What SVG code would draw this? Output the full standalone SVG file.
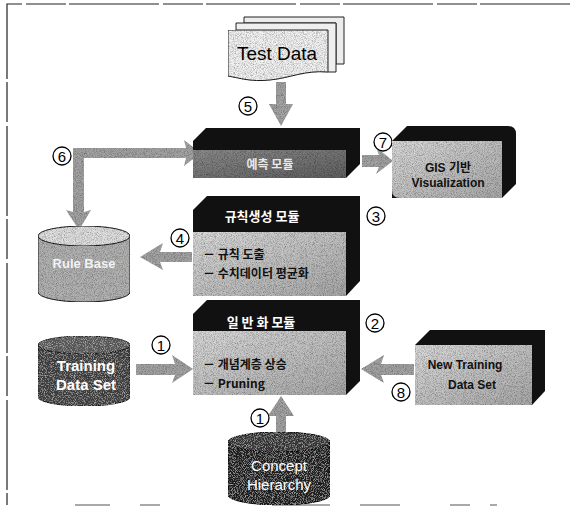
<svg xmlns="http://www.w3.org/2000/svg" width="570" height="519" viewBox="0 0 570 519">
  <defs>
    <!-- speckled print texture -->
    <filter id="grain" x="0" y="0" width="100%" height="100%">
      <feTurbulence type="fractalNoise" baseFrequency="1.1" numOctaves="2" seed="4" result="n"/>
      <feColorMatrix in="n" type="matrix" values="0 0 0 0 0  0 0 0 0 0  0 0 0 0 0  1.3 0 0 0 -0.5" result="speck"/>
      <feComposite in="speck" in2="SourceGraphic" operator="in" result="dots"/>
      <feMerge><feMergeNode in="SourceGraphic"/><feMergeNode in="dots"/></feMerge>
    </filter>
    <filter id="grainLight" x="0" y="0" width="100%" height="100%">
      <feTurbulence type="fractalNoise" baseFrequency="1.1" numOctaves="2" seed="9" result="n"/>
      <feColorMatrix in="n" type="matrix" values="0 0 0 0 1  0 0 0 0 1  0 0 0 0 1  1.1 0 0 0 -0.52" result="speck"/>
      <feComposite in="speck" in2="SourceGraphic" operator="in" result="dots"/>
      <feMerge><feMergeNode in="SourceGraphic"/><feMergeNode in="dots"/></feMerge>
    </filter>
    <linearGradient id="faceGrad" x1="0" y1="0" x2="1" y2="1">
      <stop offset="0" stop-color="#dadada"/>
      <stop offset="1" stop-color="#a8a8a8"/>
    </linearGradient>
    <linearGradient id="darkFace" x1="0" y1="0" x2="1" y2="1">
      <stop offset="0" stop-color="#8a8a8a"/>
      <stop offset="1" stop-color="#606060"/>
    </linearGradient>
  </defs>
  <style>
    .txt { font-family: "Liberation Sans", "Noto Sans CJK KR", sans-serif; }
    .ko { font-family: "Noto Sans CJK KR", "Liberation Sans", sans-serif; }
    .circ { fill: #fff; stroke: #000; stroke-width: 1.3; }
    .num { font-family: "Liberation Sans", sans-serif; font-size: 15px; text-anchor: middle; fill: #000; }
    .arrow { fill: #a4a4a4; filter: url(#grain); }
    .blk { fill: #111; }
    .face { fill: url(#faceGrad); filter: url(#grain); }
    .item { font-size: 12px; font-weight: bold; fill: #111; }
    .frame { fill: none; stroke: #222; stroke-width: 1.2; stroke-dasharray: 90 3 40 4; }
  </style>

  <rect width="570" height="519" fill="#fff"/>

  <!-- dashed page frame -->
  <path class="frame" d="M570,4 H7 V505"/>
  <path d="M75,505 H110 M140,505 H160 M272,505 H330 M360,505 H400 M450,505 H470 M490,505 H497" stroke="#555" stroke-width="1.2" fill="none"/>

  <!-- connectors -->
  <g id="connectors">
    <!-- 5: test data down into prediction module -->
    <polygon class="arrow" points="276,82 286,82 286,104 293,104 281,126 269,104 276,104"/>
    <!-- 6: rule base feeds prediction module -->
    <polygon class="arrow" points="73,148 186,148 184,140 201,153 184,166 186,158 84,158 84,212 91,210 79,230 66,210 73,212"/>
    <!-- 7: prediction to visualization -->
    <polygon class="arrow" points="362,155 379,155 376,147 393,161 376,174 379,167 362,167"/>
    <!-- 4: rules stored into rule base -->
    <polygon class="arrow" points="192,252 160,252 163,243 140,257 163,270 160,262 192,262"/>
    <!-- 1: training data into generalization module -->
    <polygon class="arrow" points="136,364 175,364 172,355 193,369 172,383 175,375 136,375"/>
    <!-- 8: new training data into generalization module -->
    <polygon class="arrow" points="414,364 381,364 384,355 361,369 384,383 381,375 414,375"/>
    <!-- 1: concept hierarchy up into generalization module -->
    <polygon class="arrow" points="276,432 286,432 286,416 294,416 281,396 268,416 276,416"/>
  </g>

  <!-- step numbers -->
  <g id="step-labels">
    <circle class="circ" cx="248" cy="106" r="9"/><text class="num" x="248" y="111.5">5</text>
    <circle class="circ" cx="62" cy="156" r="9"/><text class="num" x="62" y="161.5">6</text>
    <circle class="circ" cx="383" cy="142" r="9"/><text class="num" x="383" y="147.5">7</text>
    <circle class="circ" cx="180" cy="238" r="9"/><text class="num" x="180" y="243.5">4</text>
    <circle class="circ" cx="376" cy="216" r="9"/><text class="num" x="376" y="221.5">3</text>
    <circle class="circ" cx="375" cy="323" r="9"/><text class="num" x="375" y="328.5">2</text>
    <circle class="circ" cx="161" cy="345" r="9"/><text class="num" x="161" y="350.5">1</text>
    <circle class="circ" cx="401" cy="392" r="9"/><text class="num" x="401" y="397.5">8</text>
    <circle class="circ" cx="260" cy="418" r="9"/><text class="num" x="260" y="423.5">1</text>
  </g>

  <!-- Test Data document stack -->
  <g id="test-data">
    <path d="M244,17 H344 V64 H336 V23 H244 Z" fill="#ececec" stroke="#222" stroke-width="1"/>
    <path d="M236,23 H336 V72 H328 V30 H236 Z" fill="#efefef" stroke="#222" stroke-width="1"/>
    <path d="M228,30 H328 V72 C305,70 290,78 270,80 C250,82 240,78 228,76 Z" fill="#f2f2f2" stroke="#222" stroke-width="1" filter="url(#grain)"/>
    <text class="txt" x="277" y="60" font-size="19" text-anchor="middle" fill="#000" textLength="80" lengthAdjust="spacingAndGlyphs">Test  Data</text>
  </g>

  <!-- prediction module -->
  <g id="predict-module">
    <polygon class="blk" points="206,128 360,128 360,164 346,178 193,178 193,141"/>
    <rect x="193" y="150" width="153" height="28" fill="url(#darkFace)" filter="url(#grain)"/>
    <text class="ko" x="270" y="169" font-size="12" font-weight="bold" text-anchor="middle" fill="#e8e8e8">예측 모듈</text>
  </g>

  <!-- GIS visualization box -->
  <g id="gis-visualization">
    <path class="blk" d="M407,126 H508 Q516,126 516,134 V184 L502,198 H392 V141 Z"/>
    <path d="M392,141 H502 V198 H400 Q392,198 392,190 Z" class="face"/>
    <text class="txt" x="448" y="172" font-size="12" font-weight="bold" text-anchor="middle" fill="#111">GIS 기반</text>
    <text class="txt" x="448" y="187" font-size="12" font-weight="bold" text-anchor="middle" fill="#111">Visualization</text>
  </g>

  <!-- rule generation module -->
  <g id="rule-module">
    <polygon class="blk" points="207,196 360,196 360,281 346,296 193,296 193,210"/>
    <rect x="193" y="232" width="153" height="64" class="face"/>
    <text class="ko" x="262" y="221" font-size="13" font-weight="bold" text-anchor="middle" fill="#fff">규칙생성 모듈</text>
    <text class="ko item" x="203" y="259">－  규칙 도출</text>
    <text class="ko item" x="203" y="278">－  수치데이터 평균화</text>
  </g>

  <!-- rule base store -->
  <g id="rule-base">
    <path d="M38,236 V292 A46,10 0 0 0 130,292 V236 Z" fill="#b2b2b2" stroke="#222" stroke-width="1" filter="url(#grain)"/>
    <ellipse cx="84" cy="236" rx="46" ry="10" fill="#e0e0e0" stroke="#222" stroke-width="1" filter="url(#grain)"/>
    <text class="txt" x="84" y="268" font-size="13" font-weight="bold" text-anchor="middle" fill="#f2f2f2">Rule Base</text>
  </g>

  <!-- generalization module -->
  <g id="general-module">
    <polygon class="blk" points="207,300 360,300 360,381 346,395 193,395 193,314"/>
    <rect x="193" y="331" width="153" height="64" class="face"/>
    <text class="ko" x="261" y="327" font-size="13" font-weight="bold" text-anchor="middle" fill="#fff">일 반 화 모듈</text>
    <text class="ko item" x="203" y="369">－ 개념계층 상승</text>
    <text class="ko item" x="203" y="388">－ Pruning</text>
  </g>

  <!-- training data set store -->
  <g id="training-data">
    <path d="M38,345 V397 A46,9 0 0 0 130,397 V345 Z" fill="#3a3a3a" stroke="#111" stroke-width="1" filter="url(#grainLight)"/>
    <ellipse cx="84" cy="345" rx="46" ry="9" fill="#555" stroke="#111" stroke-width="1" filter="url(#grainLight)"/>
    <text class="txt" x="86" y="371" font-size="15" font-weight="bold" text-anchor="middle" fill="#fff">Training</text>
    <text class="txt" x="86" y="390" font-size="15" font-weight="bold" text-anchor="middle" fill="#fff">Data Set</text>
  </g>

  <!-- new training data set box -->
  <g id="new-training-data">
    <path class="blk" d="M430,330 H545 V391 L532,405 H415 V345 Z"/>
    <rect x="415" y="345" width="117" height="60" class="face"/>
    <text class="txt" x="465" y="369" font-size="12" font-weight="bold" text-anchor="middle" fill="#111">New Training</text>
    <text class="txt" x="472" y="389" font-size="12" font-weight="bold" text-anchor="middle" fill="#111">Data  Set</text>
  </g>

  <!-- concept hierarchy store -->
  <g id="concept-hierarchy">
    <path d="M228,442 V495 A51,10 0 0 0 330,495 V442 Z" fill="#1a1a1a" stroke="#000" stroke-width="1" filter="url(#grainLight)"/>
    <ellipse cx="279" cy="442" rx="51" ry="10" fill="#333" stroke="#000" stroke-width="1" filter="url(#grainLight)"/>
    <text class="txt" x="279" y="471" font-size="15" text-anchor="middle" fill="#fff">Concept</text>
    <text class="txt" x="279" y="490" font-size="15" text-anchor="middle" fill="#fff">Hierarchy</text>
  </g>
</svg>
